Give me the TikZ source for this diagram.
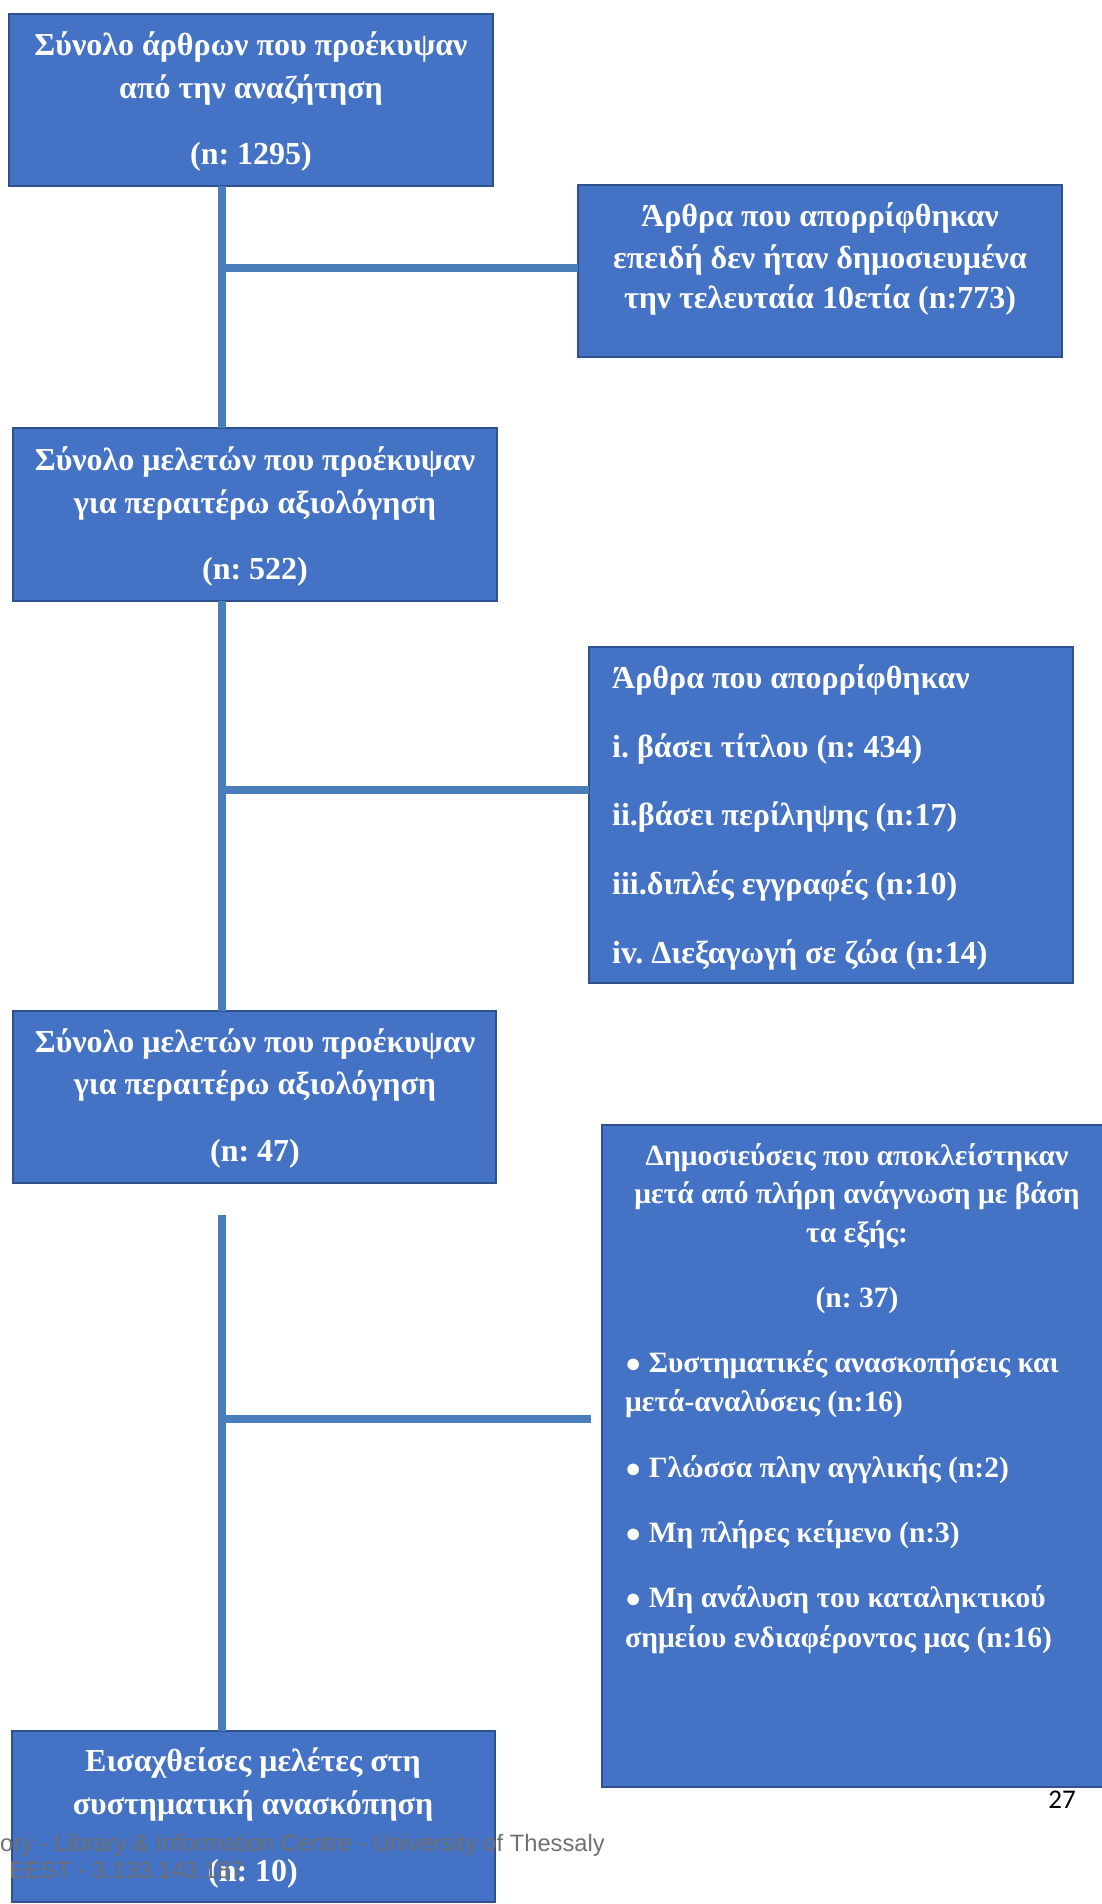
\documentclass[tikz,border=0pt]{standalone}
\usepackage{fontspec}
\setmainfont{Liberation Serif}
\newfontfamily\wmfont{Liberation Sans}
\newfontfamily\pgfont{Carlito}
\definecolor{boxfill}{RGB}{68,114,196}
\definecolor{boxline}{RGB}{47,82,143}
\definecolor{connline}{RGB}{74,126,187}
\definecolor{wmgray}{RGB}{112,112,112}
\newcommand{\bul}{{\fontsize{27}{27}\selectfont ●}}
\frenchspacing
\begin{document}
\begin{tikzpicture}[x=1pt,y=-1pt,
  box/.style={draw=boxline, line width=2.5pt, fill=boxfill, anchor=north west,
              inner sep=0pt, outer sep=0pt},
  lbl/.style={text=white, font=\bfseries\fontsize{32}{32}\selectfont, inner sep=0pt, anchor=base},
  lbll/.style={lbl, anchor=base west},
  sml/.style={font=\bfseries\fontsize{29.5}{29.5}\selectfont},
  conn/.style={draw=connline, line width=8pt},
  wm/.style={text=wmgray, font=\wmfont\fontsize{23.7}{23.7}\selectfont, inner sep=0pt, anchor=base west}]
\useasboundingbox (0,0) rectangle (1102,1904);

% boxes
\node[box, minimum width=484pt, minimum height=172pt] (b1) at (9,14) {};
\node[box, minimum width=484pt, minimum height=172pt] (b2) at (578,185) {};
\node[box, minimum width=484pt, minimum height=173pt] (b3) at (13,428) {};
\node[box, minimum width=484pt, minimum height=336pt] (b4) at (589,647) {};
\node[box, minimum width=483pt, minimum height=172pt] (b5) at (13,1011) {};
\node[box, minimum width=510pt, minimum height=662pt] (b6) at (602,1125) {};
\node[box, minimum width=483pt, minimum height=171pt] (b7) at (12,1731) {};

% trunk and branches
\coordinate (sx) at (222,0);
\coordinate (j1) at (222,268);
\coordinate (j2) at (222,790);
\coordinate (j3) at (222,1419);
\coordinate (e3) at (591,1419);
\coordinate (s5) at (222,1215);
\draw[conn] (b1.south -| sx) -- (b3.north -| sx);
\draw[conn] (b3.south -| sx) -- (b5.north -| sx);
\draw[conn] (s5) -- (b7.north -| sx);
\draw[conn] (j1) -- (j1 -| b2.west);
\draw[conn] (j2) -- (j2 -| b4.west);
\draw[conn] (j3) -- (e3);

% box 1
\node[lbl] (t1a) at (251,55) {Σύνολο άρθρων που προέκυψαν};
\node[lbl] (t1b) at (251,98) {από την αναζήτηση};
\node[lbl] (t1c) at (251,164) {(n: 1295)};
% box 2
\node[lbl] (t2a) at (820,226) {Άρθρα που απορρίφθηκαν};
\node[lbl] (t2b) at (820,268) {επειδή δεν ήταν δημοσιευμένα};
\node[lbl] (t2c) at (820,308) {την τελευταία 10ετία (n:773)};
% box 3
\node[lbl] (t3a) at (255,470) {Σύνολο μελετών που προέκυψαν};
\node[lbl] (t3b) at (255,513) {για περαιτέρω αξιολόγηση};
\node[lbl] (t3c) at (255,579) {(n: 522)};
% box 4
\node[lbll] (t4a) at (612,688) {Άρθρα που απορρίφθηκαν};
\node[lbll] (t4b) at (612,757) {i. βάσει τίτλου (n: 434)};
\node[lbll] (t4c) at (612,825) {ii.βάσει περίληψης (n:17)};
\node[lbll] (t4d) at (612,894) {iii.διπλές εγγραφές (n:10)};
\node[lbll] (t4e) at (612,963) {iv. Διεξαγωγή σε ζώα (n:14)};
% box 5
\node[lbl] (t5a) at (255,1052) {Σύνολο μελετών που προέκυψαν};
\node[lbl] (t5b) at (255,1094) {για περαιτέρω αξιολόγηση};
\node[lbl] (t5c) at (255,1161) {(n: 47)};
% box 6
\node[lbl, sml] (t6a) at (857,1165) {Δημοσιεύσεις που αποκλείστηκαν};
\node[lbl, sml] (t6b) at (857,1203) {μετά από πλήρη ανάγνωση με βάση};
\node[lbl, sml] (t6c) at (857,1242) {τα εξής:};
\node[lbl, sml] (t6d) at (857,1307) {(n: 37)};
\node[lbll, sml] (t6e) at (625,1372) {\bul{} Συστηματικές ανασκοπήσεις και};
\node[lbll, sml] (t6f) at (625,1411) {μετά-αναλύσεις (n:16)};
\node[lbll, sml] (t6g) at (625,1477) {\bul{} Γλώσσα πλην αγγλικής (n:2)};
\node[lbll, sml] (t6h) at (625,1542) {\bul{} Μη πλήρες κείμενο (n:3)};
\node[lbll, sml] (t6i) at (625,1607) {\bul{} Μη ανάλυση του καταληκτικού};
\node[lbll, sml] (t6j) at (625,1647) {σημείου ενδιαφέροντος μας (n:16)};
% box 7
\node[lbl] (t7a) at (253,1771) {Εισαχθείσες μελέτες στη};
\node[lbl] (t7b) at (253,1814) {συστηματική ανασκόπηση};
\node[lbl] (t7c) at (253,1881) {(n: 10)};

% page number and footer stamp
\node[font=\pgfont\fontsize{27}{27}\selectfont, inner sep=0pt, anchor=base east] (pg) at (1076,1808) {27};
\node[wm] (wm1) at (0,1851) {ory - Library \& Information Centre - University of Thessaly};
\node[wm] (wm2) at (9,1878) {EEST - 3.133.143.187};
\end{tikzpicture}
\end{document}
